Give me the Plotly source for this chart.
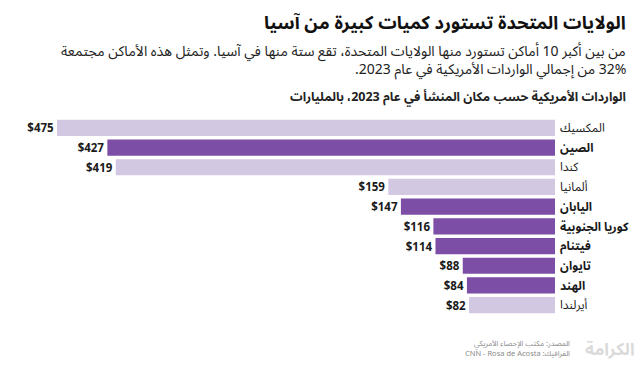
import plotly.graph_objects as go

countries = ["المكسيك", "الصين", "كندا", "ألمانيا", "اليابان", "كوريا الجنوبية", "فيتنام", "تايوان", "الهند", "أيرلندا"]
values = [475, 427, 419, 159, 147, 116, 114, 88, 84, 82]
is_asia = [False, True, False, False, True, True, True, True, True, False]

title = "الولايات المتحدة تستورد كميات كبيرة من آسيا"
subtitle_lines = [
    "من بين أكبر 10 أماكن تستورد منها الولايات المتحدة، تقع ستة منها في آسيا. وتمثل هذه الأماكن مجتمعة",
    "32% من إجمالي الواردات الأمريكية في عام 2023.",
]
chart_label = "الواردات الأمريكية حسب مكان المنشأ في عام 2023، بالمليارات"
source_lines = ["المصدر: مكتب الإحصاء الأمريكي", "الغرافيك: CNN - Rosa de Acosta"]

LIGHT = "#d3c8e1"
DARK = "#7c4ea6"
W, H = 640, 367
AR = "Noto Sans Arabic, Noto Naskh Arabic, DejaVu Sans Condensed, DejaVu Sans"

def rtl(s):
    return "\u2067" + s + "\u2069"

tick_text = [("<b>%s</b>" % c) if a else c for c, a in zip(countries, is_asia)]

fig = go.Figure(go.Bar(
    x=values,
    y=countries,
    orientation="h",
    marker=dict(color=[DARK if a else LIGHT for a in is_asia], line=dict(width=0)),
    text=["<b>$%d</b>" % v for v in values],
    textposition="outside",
    textfont=dict(size=11.5, color="#1a1a1a", family="Noto Sans"),
    constraintext="none",
    cliponaxis=False,
    hoverinfo="skip",
))

fig.update_layout(
    width=W, height=H, autosize=False,
    margin=dict(l=0, r=0, t=0, b=0, autoexpand=False),
    paper_bgcolor="white", plot_bgcolor="white",
    showlegend=False,
    bargap=0.18,
    font=dict(family=AR, color="#1a1a1a"),
    xaxis=dict(range=[476, 0], domain=[56 / W, 555 / W], visible=False, fixedrange=True, automargin=False),
    yaxis=dict(
        domain=[1 - 315 / H, 1 - 118 / H],
        autorange="reversed",
        side="right",
        automargin=False,
        fixedrange=True,
        tickmode="array", tickvals=countries, ticktext=tick_text,
        ticks="", showline=False, showgrid=False, zeroline=False,
        ticklabelstandoff=4,
        tickfont=dict(size=12, color="#1a1a1a", family=AR),
    ),
)

ann = []
ann.append(dict(text="<b>" + rtl(title) + "</b>", x=628 / W, y=1 - 23 / H, yanchor="middle",
                font=dict(size=18.3, color="#111", family=AR)))
for i, line in enumerate(subtitle_lines):
    ann.append(dict(text=rtl(line), x=628 / W, y=1 - (52 + i * 17) / H, yanchor="middle",
                    font=dict(size=14, color="#222", family=AR)))
ann.append(dict(text="<b>" + rtl(chart_label) + "</b>", x=628 / W, y=1 - 97 / H, yanchor="middle",
                font=dict(size=12.5, color="#222", family=AR)))
for i, line in enumerate(source_lines):
    ann.append(dict(text=rtl(line), x=572 / W, y=1 - (344 + i * 10) / H, yanchor="middle",
                    font=dict(size=7.5, color="#8a8a8a", family=AR)))
ann.append(dict(text="<b>الكرامة</b>", x=637 / W, y=1 - 350 / H, yanchor="middle",
                font=dict(size=17, color="#dadada", family=AR)))
for a in ann:
    a.update(xref="paper", yref="paper", xanchor="right", showarrow=False, align="right")
fig.update_layout(annotations=ann)

fig.write_html(
    "out.html",
    config={"displayModeBar": False, "staticPlot": True},
    post_script="document.body.style.margin='0';document.body.style.padding='0';document.body.style.overflow='hidden';",
)
